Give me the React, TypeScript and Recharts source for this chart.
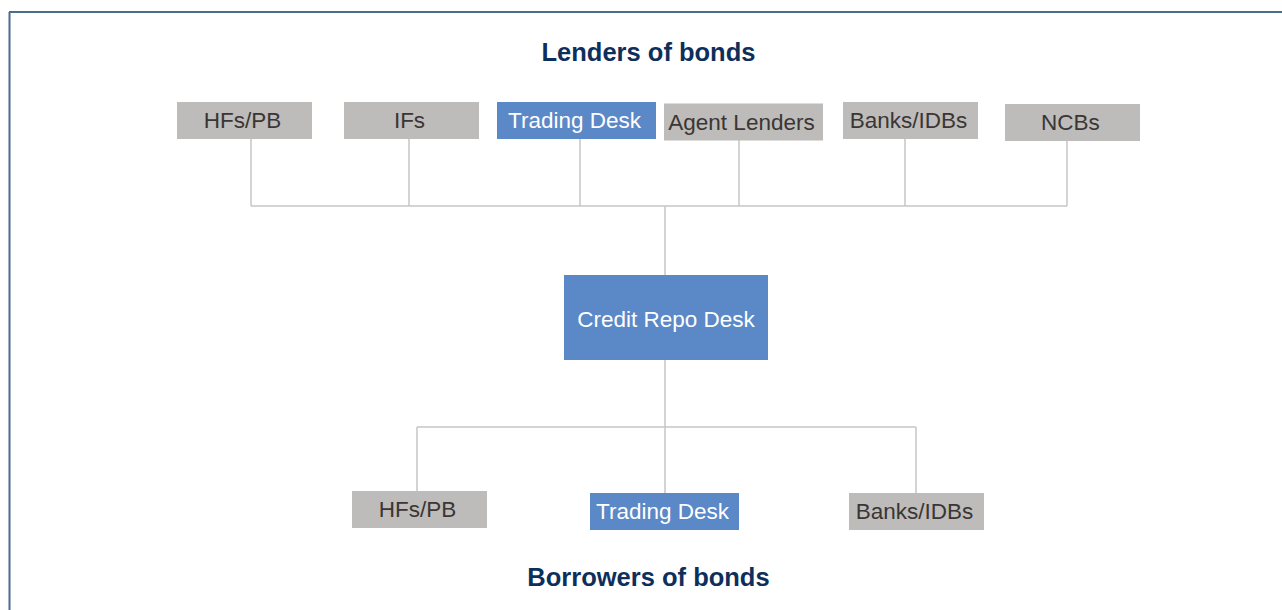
import React from 'react'
import { ScatterChart, Scatter, XAxis, YAxis, ReferenceLine } from 'recharts'

// diagram coordinates (px of the 1282x610 frame)
const lenders = [
  { name: 'HFs/PB', x: 244.5, y: 120.5, desk: false },
  { name: 'IFs', x: 411.5, y: 120.5, desk: false },
  { name: 'Trading Desk', x: 576.5, y: 120.5, desk: true },
  { name: 'Agent Lenders', x: 743.5, y: 122, desk: false },
  { name: 'Banks/IDBs', x: 910.5, y: 120.5, desk: false },
  { name: 'NCBs', x: 1072.5, y: 122.5, desk: false },
]
const lenderWidths = [135, 135, 159, 159, 135, 135]
const lenderDrops = [251, 409, 580, 739, 905, 1067]

const hub = [{ name: 'Credit Repo Desk', x: 666, y: 317.5, desk: true }]

const borrowers = [
  { name: 'HFs/PB', x: 419.5, y: 509.5, desk: false },
  { name: 'Trading Desk', x: 664.5, y: 511.5, desk: true },
  { name: 'Banks/IDBs', x: 916.5, y: 511.5, desk: false },
]
const borrowerWidths = [135, 149, 135]
const borrowerDrops = [417, 665, 916]

const titles = [
  { name: 'Lenders of bonds', x: 648.5, y: 52 },
  { name: 'Borrowers of bonds', x: 648.5, y: 577 },
]

const lenderBusY = 206
const borrowerBusY = 427
const trunkX = 665

const GRAY = '#bdbcba'
const BLUE = '#5b88c6'
const LINE = '#c6c6c6'
const FONT = '"Liberation Sans", Arial, sans-serif'

const makeBox = (widths: number[], h: number) => (props: any) => {
  const { cx, cy, payload, index } = props
  const w = widths[index] ?? 135
  return (
    <g>
      <rect x={cx - w / 2} y={cy - h / 2} width={w} height={h} fill={payload.desk ? BLUE : GRAY} />
      <text
        x={cx - 2}
        y={cy}
        textAnchor="middle"
        dominantBaseline="central"
        fontFamily={FONT}
        fontSize={22.5}
        fill={payload.desk ? '#ffffff' : '#3b3534'}
      >
        {payload.name}
      </text>
    </g>
  )
}

const HubBox = (props: any) => {
  const { cx, cy, payload } = props
  const w = 204
  const h = 85
  return (
    <g>
      <rect x={cx - w / 2} y={cy - h / 2} width={w} height={h} fill={BLUE} />
      <text x={cx} y={cy + 2} textAnchor="middle" dominantBaseline="central" fontFamily={FONT} fontSize={22.5} fill="#ffffff">
        {payload.name}
      </text>
    </g>
  )
}

const Title = (props: any) => {
  const { cx, cy, payload } = props
  return (
    <text x={cx} y={cy} textAnchor="middle" dominantBaseline="central" fontFamily={FONT} fontWeight="bold" fontSize={25.5} fill="#0e2f5c">
      {payload.name}
    </text>
  )
}

export default function App() {
  const seg = (x1: number, y1: number, x2: number, y2: number, key: string, stroke = LINE, w = 1.5) => (
    <ReferenceLine
      key={key}
      segment={[{ x: x1, y: y1 }, { x: x2, y: y2 }]}
      stroke={stroke}
      strokeWidth={w}
      ifOverflow="visible"
    />
  )
  return (
    <div style={{ position: 'absolute', left: 0, top: 0, width: 1282, height: 610, background: '#fff' }}>
      <ScatterChart width={1282} height={610} margin={{ top: 0, right: 0, bottom: 0, left: 0 }}>
        <XAxis type="number" dataKey="x" domain={[0, 1282]} hide />
        <YAxis type="number" dataKey="y" domain={[0, 610]} reversed hide />

        {seg(9.5, 12, 9.5, 610, 'frame-l', '#4d6b8c', 2)}
        {seg(9, 12, 1282, 12, 'frame-t', '#4d6b8c', 2)}

        {lenderDrops.map((x, i) => seg(x, lenders[i].y + 18, x, lenderBusY, 'ld' + i))}
        {seg(lenderDrops[0], lenderBusY, lenderDrops[lenderDrops.length - 1], lenderBusY, 'lbus')}
        {seg(trunkX, lenderBusY, trunkX, hub[0].y, 'trunk-up')}
        {seg(trunkX, hub[0].y, trunkX, borrowerBusY, 'trunk-down')}
        {seg(borrowerDrops[0], borrowerBusY, borrowerDrops[borrowerDrops.length - 1], borrowerBusY, 'bbus')}
        {borrowerDrops.map((x, i) => seg(x, borrowerBusY, x, borrowers[i].y - 18, 'bd' + i))}

        <Scatter data={titles} shape={Title} isAnimationActive={false} />
        <Scatter data={lenders} shape={makeBox(lenderWidths, 37)} isAnimationActive={false} />
        <Scatter data={hub} shape={HubBox} isAnimationActive={false} />
        <Scatter data={borrowers} shape={makeBox(borrowerWidths, 37)} isAnimationActive={false} />
      </ScatterChart>
    </div>
  )
}
